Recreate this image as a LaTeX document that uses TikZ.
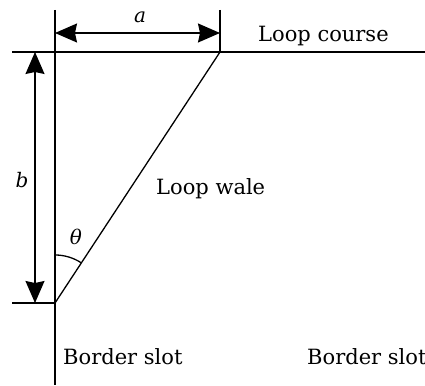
\documentclass[tikz,border=0pt]{standalone}
\usepackage{fontspec}
\setmainfont{DejaVu Serif}
\usetikzlibrary{arrows.meta}
\begin{document}
\begin{tikzpicture}[x=1pt,y=1pt,
  ln/.style={line width=1.3pt,black},
  dimarrow/.style={ln,{Stealth[length=22pt,width=19pt,inset=2pt]}-{Stealth[length=22pt,width=19pt,inset=2pt]}},
  lbl/.style={font=\fontsize{21}{24}\selectfont,inner sep=0pt,anchor=base west},
  sym/.style={font=\fontsize{20}{24}\selectfont\itshape,inner sep=0pt}]
\useasboundingbox (0,0) rectangle (425,385);
% key points
\coordinate (tl) at (12,333);
\coordinate (tr) at (425,333);
\coordinate (bl) at (12,82);
\coordinate (vtop) at (55,375);
\coordinate (vbot) at (55,0);
\coordinate (pivot) at (55,82);
\coordinate (corner) at (220,333);
\coordinate (rtop) at (220,375);
\coordinate (aL) at (55,352);
\coordinate (aR) at (220,352);
\coordinate (bT) at (35,333);
\coordinate (bB) at (35,82);
% lines
\draw[ln] (tl) -- (tr);
\draw[ln] (bl) -- (pivot);
\draw[ln] (vtop) -- (vbot);
\draw[ln] (rtop) -- (corner);
\draw[ln] (pivot) -- (corner);
\draw[dimarrow] (aL) -- (aR);
\draw[dimarrow] (bT) -- (bB);
\draw[ln] (55,130) arc[start angle=90,end angle=56.7,radius=48];
% labels
\node[sym] (la) at (140,368) {a};
\node[sym] (lb) at (22,205) {b};
\node[sym] (lt) at (76,148) {θ};
\node[lbl] (course) at (258,343) {Loop course};
\node[lbl] (wale) at (156,190) {Loop wale};
\node[lbl] (bs1) at (63,20) {Border slot};
\node[lbl] (bs2) at (307,20) {Border slot};
\end{tikzpicture}
\end{document}
